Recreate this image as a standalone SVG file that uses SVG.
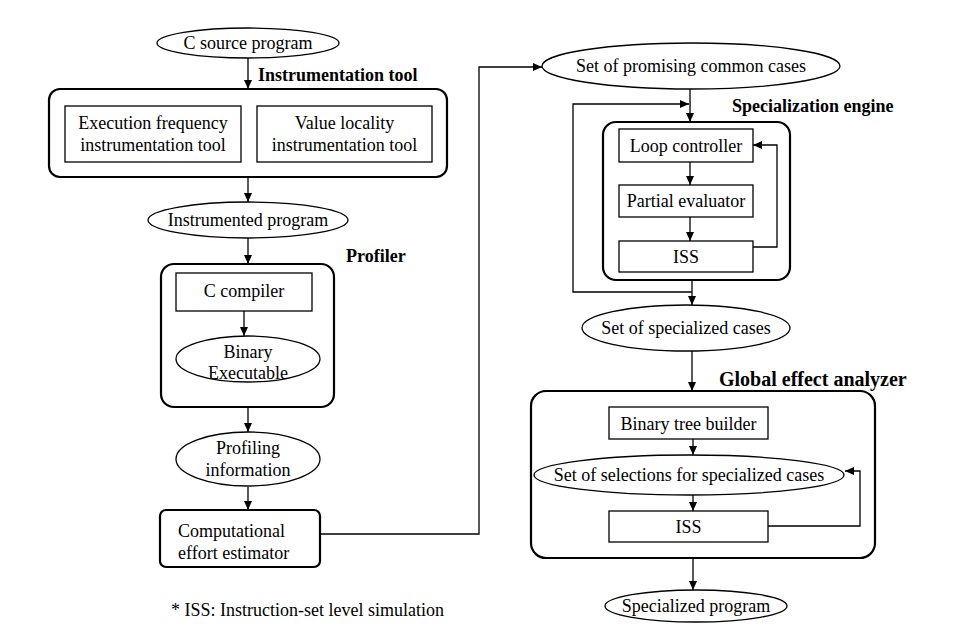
<svg xmlns="http://www.w3.org/2000/svg" width="980" height="640" viewBox="0 0 980 640">
<defs>
<marker id="ah" markerWidth="10" markerHeight="10" refX="9" refY="5" orient="auto" markerUnits="userSpaceOnUse">
<path d="M0,1 L9,5 L0,9 Z" fill="#000"/>
</marker>
<style>
text{font-family:"Liberation Serif","Times New Roman",serif;font-size:18px;fill:#000}
.c{text-anchor:middle}
.b{font-weight:bold}
.n{fill:#fff;stroke:#000;stroke-width:1.3}
.g{fill:none;stroke:#000;stroke-width:2.2}
.e{fill:#fff;stroke:#000;stroke-width:1.3}
.k{fill:none;stroke:#000;stroke-width:1.3;marker-end:url(#ah)}
.l{fill:none;stroke:#000;stroke-width:1.3}
</style>
</defs>
<rect width="980" height="640" fill="#fff"/>

<g id="connectors">
<line class="k" x1="248" y1="58" x2="248" y2="89"/>
<line class="k" x1="248" y1="177" x2="248" y2="202"/>
<line class="k" x1="248" y1="238" x2="248" y2="264"/>
<line class="k" x1="244" y1="311" x2="244" y2="336"/>
<line class="k" x1="248" y1="407" x2="248" y2="432"/>
<line class="k" x1="248" y1="487" x2="248" y2="510"/>
<polyline class="k" points="320,534 479,534 479,67 542,67"/>
<line class="k" x1="690" y1="89" x2="690" y2="122"/>
<polyline class="k" points="692,292 573,292 573,104 689,104"/>
<line class="k" x1="690" y1="162" x2="690" y2="185"/>
<line class="k" x1="690" y1="217" x2="690" y2="241"/>
<polyline class="k" points="753,247 777,247 777,145 753,145"/>
<line class="k" x1="692" y1="280" x2="692" y2="305"/>
<line class="k" x1="692" y1="351" x2="692" y2="391"/>
<line class="k" x1="693" y1="439" x2="693" y2="455"/>
<line class="k" x1="693" y1="495" x2="693" y2="511"/>
<polyline class="k" points="765,526 860,526 860,471 845,471"/>
<line class="k" x1="693" y1="558" x2="693" y2="590"/>
</g>

<g id="c-source">
<ellipse class="e" cx="248" cy="43" rx="91" ry="15"/>
<text class="c" x="248" y="49">C source program</text>
</g>

<g id="instrumentation-tool">
<text class="b" x="258" y="81">Instrumentation tool</text>
<rect class="g" x="49" y="89" width="398" height="88" rx="11"/>
</g>
<g id="exec-freq">
<rect class="n" x="65" y="106" width="176" height="56"/>
<text class="c" x="153" y="129">Execution frequency</text>
<text class="c" x="153" y="151">instrumentation tool</text>
</g>
<g id="value-locality">
<rect class="n" x="257" y="106" width="175" height="56"/>
<text class="c" x="344.5" y="129">Value locality</text>
<text class="c" x="344.5" y="151">instrumentation tool</text>
</g>

<g id="instrumented-program">
<ellipse class="e" cx="248" cy="220" rx="100" ry="18"/>
<text class="c" x="248" y="226">Instrumented program</text>
</g>

<g id="profiler">
<text class="b" x="346" y="262">Profiler</text>
<rect class="g" x="161" y="264" width="173" height="143" rx="13"/>
</g>
<g id="c-compiler">
<rect class="n" x="176" y="273" width="136" height="38"/>
<text class="c" x="244" y="297">C compiler</text>
</g>
<g id="binary-executable">
<ellipse class="e" cx="248" cy="359" rx="72" ry="23"/>
<text class="c" x="248" y="358">Binary</text>
<text class="c" x="248" y="379">Executable</text>
</g>

<g id="profiling-information">
<ellipse class="e" cx="248" cy="459" rx="72" ry="27"/>
<text class="c" x="248" y="454">Profiling</text>
<text class="c" x="248" y="476">information</text>
</g>

<g id="computational-effort">
<rect class="g" x="160" y="510" width="160" height="57" rx="6"/>
<text x="178" y="537">Computational</text>
<text x="178" y="559">effort estimator</text>
</g>

<g id="footnote">
<text x="171" y="616">* ISS: Instruction-set level simulation</text>
</g>

<g id="promising-cases">
<ellipse class="e" cx="691" cy="66" rx="149" ry="23"/>
<text class="c" x="691" y="72">Set of promising common cases</text>
</g>

<g id="specialization-engine">
<text class="b" x="732" y="112">Specialization engine</text>
<rect class="g" x="603" y="122" width="187" height="158" rx="13"/>
</g>
<g id="loop-controller">
<rect class="n" x="619" y="129" width="134" height="33"/>
<text class="c" x="686" y="152">Loop controller</text>
</g>
<g id="partial-evaluator">
<rect class="n" x="619" y="185" width="134" height="32"/>
<text class="c" x="686" y="207">Partial evaluator</text>
</g>
<g id="iss-1">
<rect class="n" x="619" y="241" width="134" height="31"/>
<text class="c" x="686" y="263">ISS</text>
</g>

<g id="specialized-cases">
<ellipse class="e" cx="686" cy="328" rx="104" ry="23"/>
<text class="c" x="686" y="334">Set of specialized cases</text>
</g>

<g id="global-effect-analyzer">
<text class="b" x="719" y="386" style="font-size:20px">Global effect analyzer</text>
<rect class="g" x="531" y="391" width="344" height="167" rx="15"/>
</g>
<g id="binary-tree-builder">
<rect class="n" x="609" y="407" width="159" height="32"/>
<text class="c" x="688.5" y="430">Binary tree builder</text>
</g>
<g id="selections">
<ellipse class="e" cx="689" cy="475" rx="155" ry="20"/>
<text class="c" x="689" y="481">Set of selections for specialized cases</text>
</g>
<g id="iss-2">
<rect class="n" x="609" y="511" width="159" height="31"/>
<text class="c" x="688.5" y="533">ISS</text>
</g>

<g id="specialized-program">
<ellipse class="e" cx="696" cy="606" rx="91" ry="16"/>
<text class="c" x="696" y="612">Specialized program</text>
</g>
</svg>
